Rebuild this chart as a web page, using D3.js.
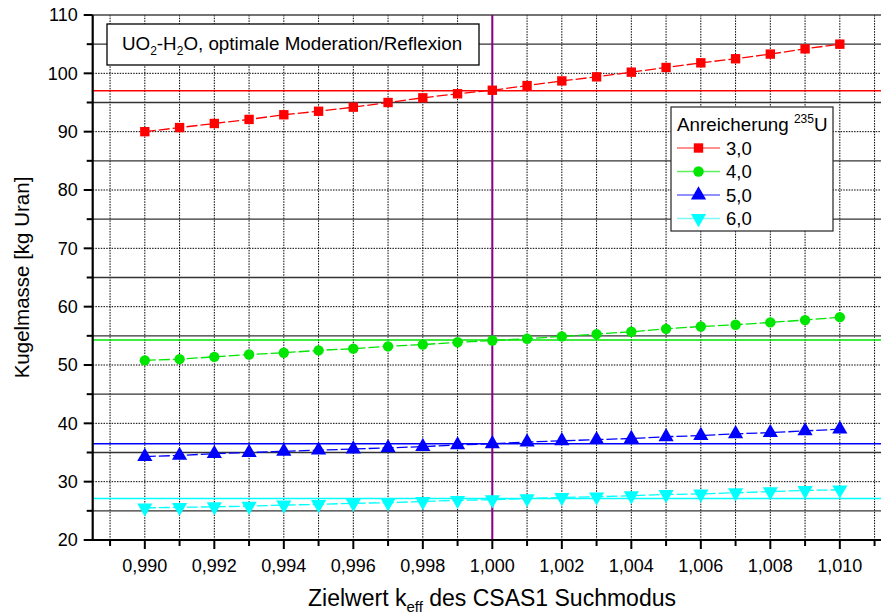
<!DOCTYPE html>
<html>
<head>
<meta charset="utf-8">
<script src="https://cdn.jsdelivr.net/npm/d3@7/dist/d3.min.js"></script>
<style>
  html, body { margin: 0; padding: 0; background: #fff; }
  svg { display: block; font-family: Arial, "Liberation Sans", sans-serif; }
</style>
</head>
<body>
<svg id="chart" width="881" height="615"></svg>
<script>
// ---------- data ----------
const kValues = [0.990,0.991,0.992,0.993,0.994,0.995,0.996,0.997,0.998,0.999,1.000,1.001,1.002,1.003,1.004,1.005,1.006,1.007,1.008,1.009,1.010];
const mass30 = [90.0,90.7,91.4,92.1,92.9,93.5,94.2,95.0,95.8,96.5,97.1,97.9,98.7,99.4,100.2,101.0,101.8,102.5,103.3,104.2,105.0];
const mass40 = [50.8,51.0,51.4,51.8,52.1,52.5,52.8,53.2,53.5,53.9,54.2,54.5,54.9,55.3,55.7,56.2,56.6,56.9,57.3,57.7,58.2];
const mass50 = [34.3,34.5,34.8,35.0,35.2,35.4,35.6,35.8,36.0,36.3,36.5,36.8,37.0,37.2,37.4,37.7,37.9,38.2,38.4,38.7,39.0];
const mass60 = [25.5,25.6,25.7,25.8,26.0,26.1,26.3,26.4,26.6,26.8,26.9,27.1,27.3,27.4,27.6,27.8,27.9,28.1,28.3,28.5,28.6];
const seriesNames = ["3,0","4,0","5,0","6,0"];
const referenceMass = [97.0, 54.3, 36.5, 27.1];
const referenceK = 1.000;
const xTickValues = [0.990,0.992,0.994,0.996,0.998,1.000,1.002,1.004,1.006,1.008,1.010];
const xTickLabels = ["0,990","0,992","0,994","0,996","0,998","1,000","1,002","1,004","1,006","1,008","1,010"];
const xMinorTicks = [0.989,0.991,0.993,0.995,0.997,0.999,1.001,1.003,1.005,1.007,1.009,1.011];
const yTickValues = [20,30,40,50,60,70,80,90,100,110];
const yMinorTicks = [25,35,45,55,65,75,85,95,105];

// ---------- styles ----------
const colors = ["#ff0000","#00e600","#0000ff","#00ffff"];
const legendLineColors = ["#ff6b6b","#5cf05c","#6b6bff","#7ff7f7"];
const shapes = [d3.symbolSquare, d3.symbolCircle, d3.symbolTriangle, "down"];
const allSeries = [mass30, mass40, mass50, mass60];

const svg = d3.select("#chart");
const pLeft = 92.7, pTop = 15, pBottom = 540;
const x = d3.scaleLinear().domain([0.9885, 1.0115]).range([pLeft, pLeft + 0.023 * 34750]);
const y = d3.scaleLinear().domain([20, 110]).range([pBottom, pTop]);
const pRight = x.range()[1];

const g = svg.append("g");

// vertical dotted grid
g.append("g").selectAll("line").data(d3.range(989, 1012).map(d => d / 1000)).join("line")
  .attr("x1", d => x(d)).attr("x2", d => x(d)).attr("y1", pTop).attr("y2", pBottom)
  .attr("stroke", "#000").attr("stroke-width", 1).attr("stroke-dasharray", "1.5,1.2");

// horizontal major dotted grid
g.append("g").selectAll("line").data(yTickValues.slice(1, -1)).join("line")
  .attr("x1", pLeft).attr("x2", pRight).attr("y1", d => y(d)).attr("y2", d => y(d))
  .attr("stroke", "#000").attr("stroke-width", 1).attr("stroke-dasharray", "1.5,1.2");

// horizontal minor solid grid
g.append("g").selectAll("line").data(yMinorTicks).join("line")
  .attr("x1", pLeft).attr("x2", pRight).attr("y1", d => y(d)).attr("y2", d => y(d))
  .attr("stroke", "#333").attr("stroke-width", 1.3);

// top frame
g.append("line").attr("x1", pLeft).attr("x2", pRight).attr("y1", y(110)).attr("y2", y(110))
  .attr("stroke", "#444").attr("stroke-width", 1.5);

// reference horizontal lines
g.append("g").selectAll("line").data(referenceMass).join("line")
  .attr("x1", pLeft).attr("x2", pRight).attr("y1", d => y(d)).attr("y2", d => y(d))
  .attr("stroke", (d, i) => colors[i]).attr("stroke-width", 1.5);

// vertical reference line
g.append("line").attr("x1", x(referenceK)).attr("x2", x(referenceK)).attr("y1", pTop).attr("y2", pBottom)
  .attr("stroke", "#8b008b").attr("stroke-width", 2);

// series lines
const line = d3.line().x((d, i) => x(kValues[i])).y(d => y(d));
allSeries.forEach((s, si) => {
  g.append("path").datum(s).attr("d", line).attr("fill", "none")
    .attr("stroke", colors[si]).attr("stroke-width", 1.3).attr("stroke-dasharray", "11,3");
});

function symbolPath(si, size) {
  if (shapes[si] === "down") {
    return d3.symbol().type(d3.symbolTriangle).size(size)();
  }
  return d3.symbol().type(shapes[si]).size(size)();
}
const sizes = [88, 85, 100, 100];
allSeries.forEach((s, si) => {
  g.append("g").selectAll("path").data(s).join("path")
    .attr("d", symbolPath(si, sizes[si]))
    .attr("transform", (d, i) => `translate(${x(kValues[i])},${y(d)})` + (shapes[si] === "down" ? " rotate(180)" : ""))
    .attr("fill", colors[si]);
});

// axes lines
svg.append("line").attr("x1", pLeft).attr("x2", pLeft).attr("y1", pTop).attr("y2", pBottom + 1)
  .attr("stroke", "#000").attr("stroke-width", 2.2);
svg.append("line").attr("x1", pLeft - 1).attr("x2", 881).attr("y1", pBottom).attr("y2", pBottom)
  .attr("stroke", "#000").attr("stroke-width", 2.2);

// y ticks
svg.append("g").selectAll("line").data(yTickValues).join("line")
  .attr("x1", pLeft - 9).attr("x2", pLeft).attr("y1", d => y(d)).attr("y2", d => y(d))
  .attr("stroke", "#000").attr("stroke-width", 2);
svg.append("g").selectAll("line").data(yMinorTicks).join("line")
  .attr("x1", pLeft - 6).attr("x2", pLeft).attr("y1", d => y(d)).attr("y2", d => y(d))
  .attr("stroke", "#000").attr("stroke-width", 2);
svg.append("g").selectAll("text").data(yTickValues).join("text")
  .attr("x", pLeft - 15).attr("y", d => y(d)).attr("dy", "0.35em")
  .attr("text-anchor", "end").attr("font-size", 18).attr("fill", "#000").text(d => d);

// x ticks
svg.append("g").selectAll("line").data(xTickValues).join("line")
  .attr("x1", d => x(d)).attr("x2", d => x(d)).attr("y1", pBottom).attr("y2", pBottom + 9)
  .attr("stroke", "#000").attr("stroke-width", 2);
svg.append("g").selectAll("line").data(xMinorTicks).join("line")
  .attr("x1", d => x(d)).attr("x2", d => x(d)).attr("y1", pBottom).attr("y2", pBottom + 6)
  .attr("stroke", "#000").attr("stroke-width", 2);
svg.append("g").selectAll("text").data(xTickValues).join("text")
  .attr("x", d => x(d)).attr("y", 572)
  .attr("text-anchor", "middle").attr("font-size", 18).attr("fill", "#000")
  .text((d, i) => xTickLabels[i]);

// axis titles
const xt = svg.append("text").attr("x", 492).attr("y", 606).attr("text-anchor", "middle")
  .attr("font-size", 23).attr("fill", "#000");
xt.append("tspan").text("Zielwert k");
xt.append("tspan").attr("font-size", 15).attr("dy", 6).text("eff");
xt.append("tspan").attr("dy", -6).text(" des CSAS1 Suchmodus");

svg.append("text").attr("transform", `translate(29,${(pTop + pBottom) / 2}) rotate(-90)`)
  .attr("text-anchor", "middle").attr("font-size", 20.5).attr("fill", "#000").text("Kugelmasse [kg Uran]");

// annotation box
svg.append("rect").attr("x", 107).attr("y", 24).attr("width", 372).attr("height", 41)
  .attr("fill", "#fff").attr("stroke", "#000").attr("stroke-width", 1.3);
const at = svg.append("text").attr("x", 122).attr("y", 50).attr("font-size", 18.8).attr("fill", "#000");
at.append("tspan").text("UO");
at.append("tspan").attr("font-size", 12).attr("dy", 5).text("2");
at.append("tspan").attr("dy", -5).text("-H");
at.append("tspan").attr("font-size", 12).attr("dy", 5).text("2");
at.append("tspan").attr("dy", -5).text("O, optimale Moderation/Reflexion");

// legend
const lg = svg.append("g");
lg.append("rect").attr("x", 671).attr("y", 107).attr("width", 162).attr("height", 124)
  .attr("fill", "#fff").attr("stroke", "#333").attr("stroke-width", 1.3);
const lt = lg.append("text").attr("x", 677).attr("y", 131).attr("font-size", 18.8).attr("fill", "#000");
lt.append("tspan").text("Anreicherung ");
lt.append("tspan").attr("font-size", 12).attr("dy", -8).text("235");
lt.append("tspan").attr("dy", 8).text("U");
seriesNames.forEach((name, si) => {
  const cy = 148 + si * 23.5;
  lg.append("line").attr("x1", 677).attr("x2", 720).attr("y1", cy).attr("y2", cy)
    .attr("stroke", legendLineColors[si]).attr("stroke-width", 1.5);
  lg.append("path").attr("d", symbolPath(si, sizes[si]))
    .attr("transform", `translate(698.5,${cy})` + (shapes[si] === "down" ? " rotate(180)" : ""))
    .attr("fill", colors[si]);
  lg.append("text").attr("x", 726).attr("y", cy).attr("dy", "0.36em").attr("font-size", 18.5)
    .attr("fill", "#000").text(name);
});
</script>
</body>
</html>
